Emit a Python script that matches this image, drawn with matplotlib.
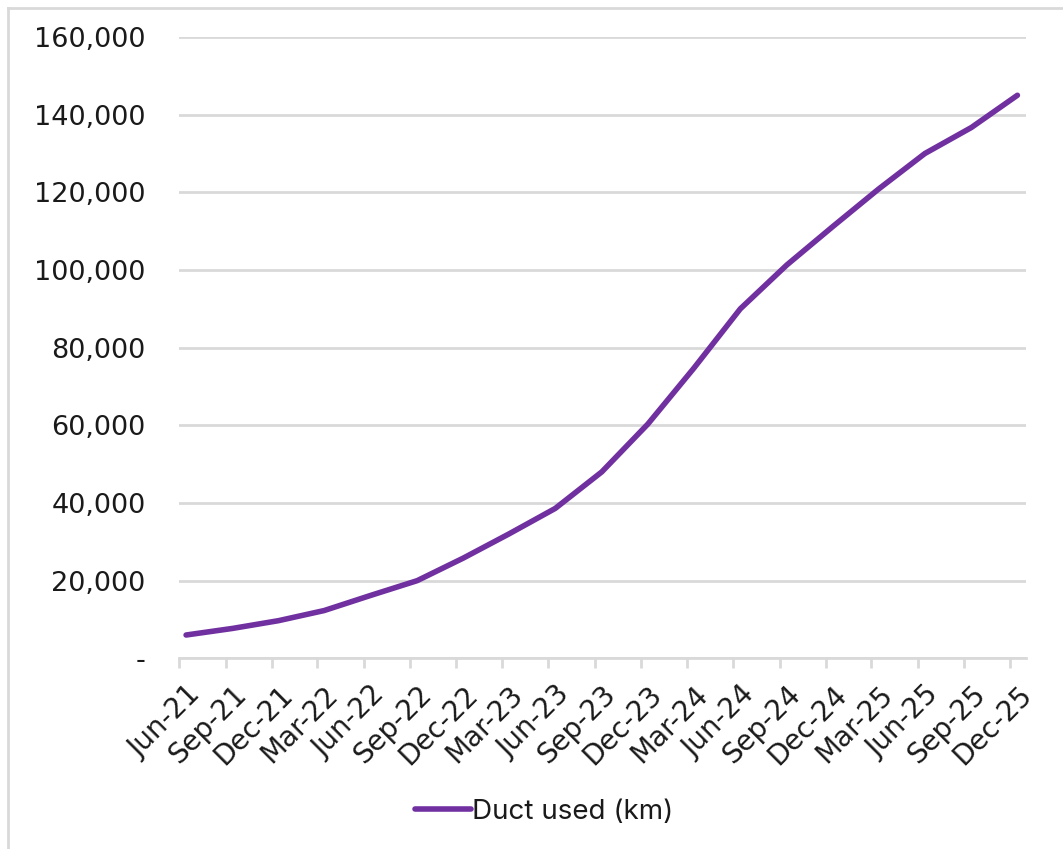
import matplotlib
matplotlib.use("Agg")
import matplotlib.pyplot as plt
from matplotlib.lines import Line2D
from matplotlib.ticker import FuncFormatter
from matplotlib.transforms import ScaledTranslation
import pandas as pd

# Quarter-end labels and cumulative duct used (km)
quarters = ["Jun-21", "Sep-21", "Dec-21", "Mar-22", "Jun-22", "Sep-22", "Dec-22",
            "Mar-23", "Jun-23", "Sep-23", "Dec-23", "Mar-24", "Jun-24", "Sep-24",
            "Dec-24", "Mar-25", "Jun-25", "Sep-25", "Dec-25"]
duct_used_km = [6000, 7700, 9700, 12300, 16200, 20000, 25800,
                32000, 38600, 48000, 60300, 74700, 90000, 101300,
                111200, 120800, 130000, 136700, 145000]
series_name = "Duct used (km)"
y_ticks = [0, 20000, 40000, 60000, 80000, 100000, 120000, 140000, 160000]

plt.rcParams["font.family"] = ["DejaVu Sans"]

month_starts = pd.to_datetime(quarters, format="%b-%y")
point_dates = month_starts + pd.Timedelta(days=14)

PURPLE = "#7030A0"
GRID = "#D9D9D9"
TEXT = "#1a1a1a"

fig = plt.figure(figsize=(10.63, 8.49), dpi=100)
ax = fig.add_axes([0.1684, 0.2246, 0.7968, 0.7318])

line, = ax.plot(point_dates, duct_used_km, color=PURPLE, lw=4.0,
                solid_capstyle="round", solid_joinstyle="round", label=series_name)

ax.set_ylim(0, 160000)
ax.set_xlim(pd.Timestamp("2021-06-01"), pd.Timestamp("2026-01-01"))
ax.set_yticks(y_ticks)
ax.yaxis.set_major_formatter(FuncFormatter(lambda v, p: "-" if v == 0 else f"{int(v):,}"))
ax.grid(axis="y", color=GRID, lw=2)
ax.set_axisbelow(True)

ax.set_xticks(month_starts)
ax.set_xticklabels(quarters, rotation=45, ha="right", va="top",
                   rotation_mode="anchor")

for s in ["top", "right", "left"]:
    ax.spines[s].set_visible(False)
ax.spines["bottom"].set_color(GRID)
ax.spines["bottom"].set_linewidth(2)

ax.tick_params(axis="y", length=0, pad=24, labelsize=19.5, labelcolor=TEXT)
ax.tick_params(axis="x", length=7, width=2, color=GRID, pad=3, labelsize=20, labelcolor=TEXT)

# nudge rotated date labels down and to the right of their ticks
shift = ScaledTranslation(7 / 100, -8 / 100, fig.dpi_scale_trans)
for lab in ax.get_xticklabels():
    lab.set_transform(lab.get_transform() + shift)

leg = fig.legend(handles=[line], loc="center", bbox_to_anchor=(0.512, 0.0436),
                 frameon=False, handlelength=2.0, handletextpad=0.05,
                 prop={"family": "Inter", "size": 20})
for t in leg.get_texts():
    t.set_color(TEXT)

# chart-area border (left and top edges)
bx, by = 8 / 1063, 1 - 8 / 849
fig.add_artist(Line2D([bx, bx], [0, by], transform=fig.transFigure, color=GRID, lw=2))
fig.add_artist(Line2D([bx, 1], [by, by], transform=fig.transFigure, color=GRID, lw=2))

fig.savefig("out.png", dpi=100, facecolor="white")
